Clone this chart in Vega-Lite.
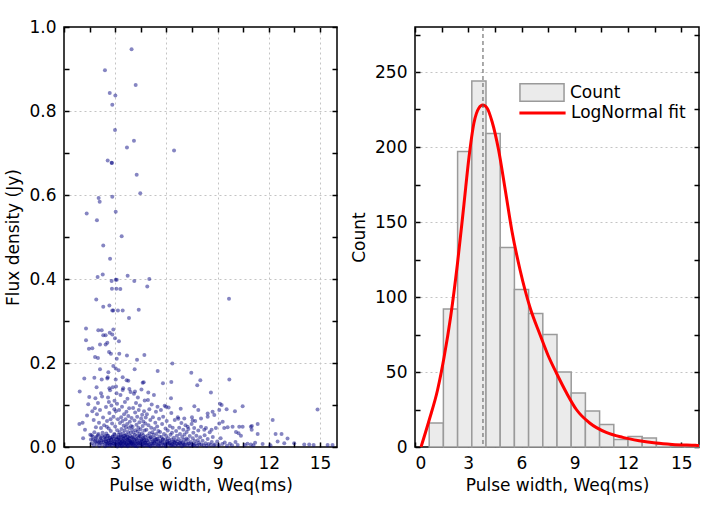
{
  "$schema": "https://vega.github.io/schema/vega-lite/v6.json",
  "background": "white",
  "padding": {"left": 4, "top": 17, "right": 8, "bottom": 5},
  "config": {
    "view": {"stroke": "#000", "strokeWidth": 1.5},
    "font": "DejaVu Sans",
    "axis": {
      "labelFont": "DejaVu Sans", "labelFontSize": 17, "labelColor": "#000",
      "titleFont": "DejaVu Sans", "titleFontSize": 17, "titleFontWeight": "normal", "titleColor": "#000",
      "domain": false, "tickColor": "#000", "tickSize": -5, "tickWidth": 1.5,
      "gridColor": "#c4c4c4", "gridDash": [2, 3], "gridWidth": 1,
      "labelPadding": 13, "titlePadding": 6
    },
    "legend": {
      "labelFont": "DejaVu Sans", "labelFontSize": 17, "labelColor": "#000",
      "symbolSize": 441, "symbolOffset": 11.5, "labelOffset": 16.5, "rowPadding": 0
    }
  },
  "datasets": {
    "pulses": [
      {"width":3.96,"flux":0.947},{"width":2.40,"flux":0.897},{"width":4.20,"flux":0.862},{"width":2.68,"flux":0.843},
      {"width":3.01,"flux":0.837},{"width":2.83,"flux":0.815},{"width":2.99,"flux":0.755},{"width":4.10,"flux":0.729},
      {"width":3.69,"flux":0.713},{"width":6.45,"flux":0.706},{"width":2.56,"flux":0.682},{"width":2.79,"flux":0.677},
      {"width":2.81,"flux":0.676},{"width":4.26,"flux":0.648},{"width":4.47,"flux":0.604},{"width":2.03,"flux":0.593},
      {"width":2.09,"flux":0.584},{"width":2.83,"flux":0.596},{"width":1.33,"flux":0.556},{"width":3.03,"flux":0.560},
      {"width":1.93,"flux":0.540},{"width":3.38,"flux":0.502},{"width":2.30,"flux":0.480},{"width":2.70,"flux":0.448},
      {"width":2.27,"flux":0.411},{"width":1.97,"flux":0.405},{"width":3.73,"flux":0.408},{"width":3.03,"flux":0.398},
      {"width":3.09,"flux":0.398},{"width":2.79,"flux":0.395},{"width":4.12,"flux":0.395},{"width":5.00,"flux":0.400},
      {"width":4.88,"flux":0.382},{"width":2.81,"flux":0.377},{"width":3.07,"flux":0.377},{"width":3.30,"flux":0.376},
      {"width":9.67,"flux":0.353},{"width":1.89,"flux":0.351},{"width":2.30,"flux":0.334},{"width":2.66,"flux":0.337},
      {"width":2.83,"flux":0.325},{"width":2.89,"flux":0.325},{"width":3.16,"flux":0.325},{"width":3.44,"flux":0.325},
      {"width":4.38,"flux":0.327},{"width":3.81,"flux":0.307},{"width":1.29,"flux":0.282},{"width":2.01,"flux":0.278},
      {"width":2.21,"flux":0.278},{"width":2.89,"flux":0.280},{"width":2.68,"flux":0.272},{"width":2.83,"flux":0.268},
      {"width":2.30,"flux":0.266},{"width":2.44,"flux":0.266},{"width":1.29,"flux":0.254},{"width":3.22,"flux":0.252},
      {"width":2.99,"flux":0.259},{"width":1.46,"flux":0.234},{"width":1.66,"flux":0.235},{"width":2.11,"flux":0.244},
      {"width":2.44,"flux":0.244},{"width":2.54,"flux":0.248},{"width":2.64,"flux":0.226},{"width":2.75,"flux":0.222},
      {"width":3.24,"flux":0.222},{"width":3.69,"flux":0.218},{"width":4.71,"flux":0.219},{"width":1.82,"flux":0.214},
      {"width":1.99,"flux":0.212},{"width":3.09,"flux":0.210},{"width":4.28,"flux":0.208},{"width":6.35,"flux":0.199},
      {"width":2.89,"flux":0.193},{"width":3.03,"flux":0.187},{"width":2.11,"flux":0.185},{"width":4.14,"flux":0.185},
      {"width":2.60,"flux":0.178},{"width":5.49,"flux":0.181},{"width":7.46,"flux":0.177},{"width":3.20,"flux":0.183},
      {"width":1.19,"flux":0.163},{"width":1.78,"flux":0.165},{"width":2.21,"flux":0.161},{"width":2.54,"flux":0.163},
      {"width":3.03,"flux":0.161},{"width":3.67,"flux":0.159},{"width":7.99,"flux":0.159},{"width":9.69,"flux":0.161},
      {"width":4.67,"flux":0.154},{"width":5.80,"flux":0.152},{"width":6.29,"flux":0.155},{"width":7.81,"flux":0.147},
      {"width":1.91,"flux":0.142},{"width":0.92,"flux":0.132},{"width":8.61,"flux":0.130},{"width":14.86,"flux":0.089},
      {"width":12.23,"flux":0.064},{"width":10.47,"flux":0.097},{"width":9.14,"flux":0.103},{"width":7.64,"flux":0.097},
      {"width":6.84,"flux":0.091},{"width":7.87,"flux":0.088},{"width":8.42,"flux":0.080},{"width":8.71,"flux":0.084},
      {"width":9.10,"flux":0.088},{"width":9.24,"flux":0.100},{"width":9.53,"flux":0.090},{"width":10.02,"flux":0.085},
      {"width":8.03,"flux":0.048},{"width":8.32,"flux":0.045},{"width":8.65,"flux":0.041},{"width":8.90,"flux":0.045},
      {"width":9.39,"flux":0.045},{"width":9.30,"flux":0.060},{"width":9.59,"flux":0.047},{"width":9.88,"flux":0.048},
      {"width":10.23,"flux":0.033},{"width":10.27,"flux":0.048},{"width":10.37,"flux":0.027},{"width":10.08,"flux":0.036},
      {"width":10.47,"flux":0.048},{"width":10.95,"flux":0.048},{"width":10.95,"flux":0.006},{"width":11.01,"flux":0.050},
      {"width":11.00,"flux":0.041},{"width":10.60,"flux":0.005},{"width":11.35,"flux":0.055},{"width":11.35,"flux":0.031},
      {"width":11.20,"flux":0.010},{"width":11.64,"flux":0.007},{"width":12.40,"flux":0.031},{"width":12.75,"flux":0.031},
      {"width":12.52,"flux":0.013},{"width":12.10,"flux":0.004},{"width":12.91,"flux":0.009},{"width":13.49,"flux":0.009},
      {"width":13.10,"flux":0.020},{"width":14.08,"flux":0.006},{"width":14.37,"flux":0.006},{"width":14.63,"flux":0.005},
      {"width":15.45,"flux":0.005},{"width":15.74,"flux":0.005},{"width":9.10,"flux":0.056},
      {"width":2.56,"flux":0.166},{"width":3.44,"flux":0.166},{"width":3.77,"flux":0.158},{"width":4.61,"flux":0.153},
      {"width":2.17,"flux":0.128},{"width":2.66,"flux":0.140},{"width":3.05,"flux":0.144},{"width":3.44,"flux":0.136},
      {"width":3.83,"flux":0.138},{"width":4.16,"flux":0.132},{"width":4.94,"flux":0.130},{"width":1.48,"flux":0.119},
      {"width":1.84,"flux":0.116},{"width":6.27,"flux":0.116},{"width":7.54,"flux":0.063},
      {"width":5.98,"flux":0.096},{"width":8.03,"flux":0.068},{"width":8.42,"flux":0.072},{"width":8.81,"flux":0.076},
      {"width":6.70,"flux":0.067},{"width":7.05,"flux":0.068},{"width":7.50,"flux":0.071},{"width":7.25,"flux":0.048},
      {"width":7.63,"flux":0.045},{"width":8.22,"flux":0.041},
      {"width":0.90,"flux":0.055},{"width":1.09,"flux":0.058},{"width":1.23,"flux":0.041},{"width":1.42,"flux":0.102},
      {"width":1.54,"flux":0.029},{"width":1.35,"flux":0.075},{"width":1.12,"flux":0.021},
      {"width":1.62,"flux":0.028},{"width":1.66,"flux":0.085},{"width":1.70,"flux":0.018},{"width":1.74,"flux":0.064},
      {"width":1.78,"flux":0.035},{"width":1.81,"flux":0.092},{"width":1.84,"flux":0.012},{"width":1.87,"flux":0.047},
      {"width":1.90,"flux":0.024},{"width":1.93,"flux":0.078},{"width":1.96,"flux":0.015},{"width":1.99,"flux":0.105},
      {"width":2.02,"flux":0.031},{"width":2.05,"flux":0.058},{"width":2.08,"flux":0.010},{"width":2.11,"flux":0.088},
      {"width":2.14,"flux":0.022},{"width":2.17,"flux":0.045},{"width":2.20,"flux":0.016},{"width":2.23,"flux":0.120},
      {"width":2.26,"flux":0.034},{"width":2.29,"flux":0.070},{"width":2.32,"flux":0.012},{"width":2.35,"flux":0.052},
      {"width":2.38,"flux":0.026},
      {"width":2.42,"flux":0.008},{"width":2.44,"flux":0.019},{"width":2.46,"flux":0.095},{"width":2.48,"flux":0.032},
      {"width":2.50,"flux":0.012},{"width":2.52,"flux":0.062},{"width":2.54,"flux":0.004},{"width":2.56,"flux":0.027},
      {"width":2.58,"flux":0.118},{"width":2.60,"flux":0.015},{"width":2.62,"flux":0.044},{"width":2.64,"flux":0.009},
      {"width":2.66,"flux":0.081},{"width":2.68,"flux":0.021},{"width":2.70,"flux":0.135},{"width":2.72,"flux":0.006},
      {"width":2.74,"flux":0.038},{"width":2.76,"flux":0.017},{"width":2.78,"flux":0.099},{"width":2.80,"flux":0.011},
      {"width":2.82,"flux":0.056},{"width":2.84,"flux":0.025},{"width":2.86,"flux":0.142},{"width":2.88,"flux":0.007},
      {"width":2.90,"flux":0.072},{"width":2.92,"flux":0.019},{"width":2.94,"flux":0.031},{"width":2.96,"flux":0.110},
      {"width":2.98,"flux":0.013},{"width":3.00,"flux":0.049},{"width":3.02,"flux":0.005},{"width":3.04,"flux":0.085},
      {"width":3.06,"flux":0.023},{"width":3.08,"flux":0.128},{"width":3.10,"flux":0.010},{"width":3.12,"flux":0.040},
      {"width":3.14,"flux":0.018},{"width":3.16,"flux":0.066},{"width":3.18,"flux":0.008},{"width":3.19,"flux":0.029},
      {"width":2.51,"flux":0.048},{"width":2.73,"flux":0.066},{"width":2.95,"flux":0.090},{"width":3.11,"flux":0.103},
      {"width":2.63,"flux":0.107},
      {"width":3.21,"flux":0.006},{"width":3.22,"flux":0.021},{"width":3.23,"flux":0.088},{"width":3.25,"flux":0.013},
      {"width":3.26,"flux":0.035},{"width":3.27,"flux":0.004},{"width":3.28,"flux":0.057},{"width":3.30,"flux":0.017},
      {"width":3.31,"flux":0.124},{"width":3.32,"flux":0.009},{"width":3.33,"flux":0.028},{"width":3.35,"flux":0.071},
      {"width":3.36,"flux":0.011},{"width":3.37,"flux":0.043},{"width":3.38,"flux":0.002},{"width":3.40,"flux":0.096},
      {"width":3.41,"flux":0.024},{"width":3.42,"flux":0.015},{"width":3.43,"flux":0.062},{"width":3.45,"flux":0.008},
      {"width":3.46,"flux":0.033},{"width":3.47,"flux":0.140},{"width":3.48,"flux":0.019},{"width":3.50,"flux":0.051},
      {"width":3.51,"flux":0.005},{"width":3.52,"flux":0.078},{"width":3.53,"flux":0.026},{"width":3.55,"flux":0.012},
      {"width":3.56,"flux":0.039},{"width":3.57,"flux":0.107},{"width":3.58,"flux":0.003},{"width":3.60,"flux":0.022},
      {"width":3.61,"flux":0.066},{"width":3.62,"flux":0.014},{"width":3.63,"flux":0.047},{"width":3.65,"flux":0.010},
      {"width":3.66,"flux":0.084},{"width":3.67,"flux":0.030},{"width":3.68,"flux":0.007},{"width":3.70,"flux":0.055},
      {"width":3.71,"flux":0.018},{"width":3.72,"flux":0.115},{"width":3.73,"flux":0.025},{"width":3.75,"flux":0.004},
      {"width":3.76,"flux":0.036},{"width":3.77,"flux":0.074},{"width":3.78,"flux":0.016},{"width":3.80,"flux":0.009},
      {"width":3.81,"flux":0.045},{"width":3.82,"flux":0.092},{"width":3.83,"flux":0.020},{"width":3.85,"flux":0.006},
      {"width":3.86,"flux":0.060},{"width":3.87,"flux":0.027},{"width":3.88,"flux":0.013},{"width":3.90,"flux":0.131},
      {"width":3.91,"flux":0.034},{"width":3.92,"flux":0.011},{"width":3.93,"flux":0.050},{"width":3.95,"flux":0.003},
      {"width":3.96,"flux":0.069},{"width":3.97,"flux":0.023},{"width":3.98,"flux":0.015},{"width":3.99,"flux":0.041},
      {"width":3.995,"flux":0.008},
      {"width":4.01,"flux":0.012},{"width":4.02,"flux":0.048},{"width":4.04,"flux":0.005},{"width":4.05,"flux":0.093},
      {"width":4.06,"flux":0.021},{"width":4.08,"flux":0.034},{"width":4.09,"flux":0.008},{"width":4.10,"flux":0.127},
      {"width":4.12,"flux":0.017},{"width":4.13,"flux":0.063},{"width":4.14,"flux":0.003},{"width":4.16,"flux":0.029},
      {"width":4.17,"flux":0.082},{"width":4.18,"flux":0.011},{"width":4.20,"flux":0.040},{"width":4.21,"flux":0.019},
      {"width":4.22,"flux":0.105},{"width":4.24,"flux":0.007},{"width":4.25,"flux":0.053},{"width":4.26,"flux":0.026},
      {"width":4.28,"flux":0.014},{"width":4.29,"flux":0.072},{"width":4.30,"flux":0.002},{"width":4.32,"flux":0.037},
      {"width":4.33,"flux":0.118},{"width":4.34,"flux":0.010},{"width":4.36,"flux":0.046},{"width":4.37,"flux":0.022},
      {"width":4.38,"flux":0.088},{"width":4.40,"flux":0.006},{"width":4.41,"flux":0.031},{"width":4.42,"flux":0.059},
      {"width":4.44,"flux":0.015},{"width":4.45,"flux":0.099},{"width":4.46,"flux":0.009},{"width":4.48,"flux":0.025},
      {"width":4.49,"flux":0.042},{"width":4.50,"flux":0.004},{"width":4.52,"flux":0.068},{"width":4.53,"flux":0.018},
      {"width":4.54,"flux":0.137},{"width":4.56,"flux":0.012},{"width":4.57,"flux":0.033},{"width":4.58,"flux":0.077},
      {"width":4.60,"flux":0.007},{"width":4.61,"flux":0.050},{"width":4.62,"flux":0.020},{"width":4.64,"flux":0.013},
      {"width":4.65,"flux":0.061},{"width":4.66,"flux":0.028},{"width":4.68,"flux":0.003},{"width":4.69,"flux":0.085},
      {"width":4.70,"flux":0.016},{"width":4.72,"flux":0.039},{"width":4.73,"flux":0.111},{"width":4.74,"flux":0.010},
      {"width":4.76,"flux":0.024},{"width":4.77,"flux":0.056},{"width":4.78,"flux":0.005},{"width":4.79,"flux":0.070},
      {"width":4.81,"flux":0.009},{"width":4.83,"flux":0.041},{"width":4.85,"flux":0.016},{"width":4.86,"flux":0.078},
      {"width":4.88,"flux":0.004},{"width":4.90,"flux":0.027},{"width":4.92,"flux":0.112},{"width":4.93,"flux":0.011},
      {"width":4.95,"flux":0.052},{"width":4.97,"flux":0.020},{"width":4.99,"flux":0.006},{"width":5.00,"flux":0.090},
      {"width":5.02,"flux":0.033},{"width":5.04,"flux":0.013},{"width":5.06,"flux":0.064},{"width":5.07,"flux":0.002},
      {"width":5.09,"flux":0.024},{"width":5.11,"flux":0.046},{"width":5.13,"flux":0.008},{"width":5.14,"flux":0.101},
      {"width":5.16,"flux":0.018},{"width":5.18,"flux":0.035},{"width":5.20,"flux":0.005},{"width":5.21,"flux":0.071},
      {"width":5.23,"flux":0.014},{"width":5.25,"flux":0.029},{"width":5.27,"flux":0.124},{"width":5.28,"flux":0.010},
      {"width":5.30,"flux":0.043},{"width":5.32,"flux":0.022},{"width":5.34,"flux":0.003},{"width":5.35,"flux":0.058},
      {"width":5.37,"flux":0.017},{"width":5.39,"flux":0.084},{"width":5.41,"flux":0.007},{"width":5.42,"flux":0.031},
      {"width":5.44,"flux":0.012},{"width":5.46,"flux":0.049},{"width":5.48,"flux":0.096},{"width":5.49,"flux":0.019},
      {"width":5.51,"flux":0.006},{"width":5.53,"flux":0.038},{"width":5.55,"flux":0.015},{"width":5.57,"flux":0.067},
      {"width":5.59,"flux":0.025},
      {"width":5.61,"flux":0.007},{"width":5.63,"flux":0.036},{"width":5.66,"flux":0.014},{"width":5.68,"flux":0.088},
      {"width":5.70,"flux":0.003},{"width":5.72,"flux":0.024},{"width":5.75,"flux":0.055},{"width":5.77,"flux":0.011},
      {"width":5.79,"flux":0.019},{"width":5.81,"flux":0.072},{"width":5.84,"flux":0.005},{"width":5.86,"flux":0.031},
      {"width":5.88,"flux":0.009},{"width":5.90,"flux":0.098},{"width":5.93,"flux":0.017},{"width":5.95,"flux":0.044},
      {"width":5.97,"flux":0.002},{"width":5.99,"flux":0.026},{"width":6.02,"flux":0.062},{"width":6.04,"flux":0.012},
      {"width":6.06,"flux":0.008},{"width":6.08,"flux":0.039},{"width":6.11,"flux":0.021},{"width":6.13,"flux":0.094},
      {"width":6.15,"flux":0.006},{"width":6.17,"flux":0.015},{"width":6.20,"flux":0.050},{"width":6.22,"flux":0.010},
      {"width":6.24,"flux":0.029},{"width":6.26,"flux":0.004},{"width":6.29,"flux":0.081},{"width":6.31,"flux":0.018},
      {"width":6.33,"flux":0.034},{"width":6.35,"flux":0.007},{"width":6.37,"flux":0.046},{"width":6.39,"flux":0.013},
      {"width":6.41,"flux":0.005},{"width":6.44,"flux":0.022},{"width":6.46,"flux":0.011},{"width":6.49,"flux":0.064},
      {"width":6.52,"flux":0.003},{"width":6.54,"flux":0.016},{"width":6.57,"flux":0.038},{"width":6.59,"flux":0.008},
      {"width":6.62,"flux":0.027},{"width":6.65,"flux":0.013},{"width":6.67,"flux":0.071},{"width":6.70,"flux":0.004},
      {"width":6.72,"flux":0.019},{"width":6.75,"flux":0.046},{"width":6.78,"flux":0.009},{"width":6.80,"flux":0.031},
      {"width":6.83,"flux":0.006},{"width":6.86,"flux":0.014},{"width":6.88,"flux":0.057},{"width":6.91,"flux":0.002},
      {"width":6.93,"flux":0.024},{"width":6.96,"flux":0.010},{"width":6.99,"flux":0.041},{"width":7.01,"flux":0.007},
      {"width":7.04,"flux":0.017},{"width":7.06,"flux":0.030},{"width":7.09,"flux":0.005},{"width":7.12,"flux":0.052},
      {"width":7.14,"flux":0.012},{"width":7.17,"flux":0.020},{"width":7.19,"flux":0.036},
      {"width":7.22,"flux":0.004},{"width":7.26,"flux":0.018},{"width":7.29,"flux":0.043},{"width":7.33,"flux":0.009},
      {"width":7.37,"flux":0.026},{"width":7.40,"flux":0.003},{"width":7.44,"flux":0.012},{"width":7.48,"flux":0.055},
      {"width":7.51,"flux":0.007},{"width":7.55,"flux":0.021},{"width":7.58,"flux":0.034},{"width":7.62,"flux":0.005},
      {"width":7.66,"flux":0.014},{"width":7.69,"flux":0.062},{"width":7.73,"flux":0.008},{"width":7.76,"flux":0.027},
      {"width":7.80,"flux":0.003},{"width":7.84,"flux":0.016},{"width":7.87,"flux":0.039},{"width":7.91,"flux":0.010},
      {"width":7.94,"flux":0.006},{"width":7.98,"flux":0.023},
      {"width":8.06,"flux":0.006},{"width":8.12,"flux":0.015},{"width":8.18,"flux":0.004},{"width":8.24,"flux":0.028},
      {"width":8.30,"flux":0.009},{"width":8.36,"flux":0.003},{"width":8.42,"flux":0.019},{"width":8.48,"flux":0.007},
      {"width":8.54,"flux":0.035},{"width":8.60,"flux":0.005},{"width":8.66,"flux":0.012},{"width":8.72,"flux":0.024},
      {"width":8.78,"flux":0.004},
      {"width":8.85,"flux":0.006},{"width":8.98,"flux":0.013},{"width":9.07,"flux":0.004},{"width":9.18,"flux":0.021},
      {"width":9.28,"flux":0.007},{"width":9.42,"flux":0.011},{"width":9.55,"flux":0.003},
      {"width":9.72,"flux":0.008},{"width":9.85,"flux":0.004},{"width":10.05,"flux":0.012},{"width":10.18,"flux":0.005},
      {"width":10.75,"flux":0.008},{"width":11.10,"flux":0.004},
      {"width":1.58,"flux":0.018},{"width":1.63,"flux":0.009},{"width":1.69,"flux":0.025},{"width":1.75,"flux":0.004},
      {"width":1.81,"flux":0.014},{"width":1.86,"flux":0.021},{"width":1.92,"flux":0.007},{"width":1.98,"flux":0.028},
      {"width":2.03,"flux":0.012},{"width":2.07,"flux":0.003},{"width":2.12,"flux":0.019},{"width":2.16,"flux":0.010},
      {"width":2.21,"flux":0.026},{"width":2.25,"flux":0.006},{"width":2.31,"flux":0.016},{"width":2.36,"flux":0.023},
      {"width":2.41,"flux":0.002},{"width":2.45,"flux":0.013},{"width":2.49,"flux":0.020},{"width":2.53,"flux":0.008},
      {"width":2.57,"flux":0.027},{"width":2.61,"flux":0.015},{"width":2.65,"flux":0.005},{"width":2.69,"flux":0.022},
      {"width":2.73,"flux":0.011},{"width":2.77,"flux":0.017},{"width":2.81,"flux":0.003},{"width":2.85,"flux":0.024},
      {"width":2.89,"flux":0.009},{"width":2.93,"flux":0.014},{"width":2.97,"flux":0.029},{"width":3.01,"flux":0.006},
      {"width":3.05,"flux":0.019},{"width":3.09,"flux":0.012},{"width":3.13,"flux":0.001},{"width":3.17,"flux":0.023},
      {"width":3.24,"flux":0.016},{"width":3.29,"flux":0.008},{"width":3.34,"flux":0.025},{"width":3.39,"flux":0.004},
      {"width":3.44,"flux":0.013},{"width":3.49,"flux":0.020},{"width":3.54,"flux":0.010},{"width":3.59,"flux":0.027},
      {"width":3.64,"flux":0.006},{"width":3.69,"flux":0.017},{"width":3.74,"flux":0.002},{"width":3.79,"flux":0.022},
      {"width":3.84,"flux":0.011},{"width":3.89,"flux":0.015},{"width":3.94,"flux":0.007},{"width":4.03,"flux":0.024},
      {"width":4.11,"flux":0.012},{"width":4.19,"flux":0.003},{"width":4.27,"flux":0.018},{"width":4.35,"flux":0.009},
      {"width":4.43,"flux":0.026},{"width":4.51,"flux":0.014},{"width":4.59,"flux":0.005},{"width":4.67,"flux":0.021},
      {"width":4.75,"flux":0.010},{"width":4.84,"flux":0.016},{"width":4.96,"flux":0.004},{"width":5.08,"flux":0.023},
      {"width":5.19,"flux":0.008},{"width":5.31,"flux":0.013},{"width":5.43,"flux":0.019},{"width":5.55,"flux":0.003},
      {"width":5.67,"flux":0.011},{"width":5.79,"flux":0.017},{"width":5.92,"flux":0.006},{"width":6.05,"flux":0.014},
      {"width":6.18,"flux":0.009},{"width":6.32,"flux":0.004},{"width":6.47,"flux":0.012},{"width":6.63,"flux":0.007},
      {"width":6.81,"flux":0.010},{"width":7.02,"flux":0.005},{"width":7.27,"flux":0.008},{"width":7.58,"flux":0.004}
    ],
    "histogram": [
      {"bin_start":0.8,"bin_end":1.6,"count":16,"series":"Count"},
      {"bin_start":1.6,"bin_end":2.4,"count":92,"series":"Count"},
      {"bin_start":2.4,"bin_end":3.2,"count":197,"series":"Count"},
      {"bin_start":3.2,"bin_end":4.0,"count":244,"series":"Count"},
      {"bin_start":4.0,"bin_end":4.8,"count":209,"series":"Count"},
      {"bin_start":4.8,"bin_end":5.6,"count":133,"series":"Count"},
      {"bin_start":5.6,"bin_end":6.4,"count":105,"series":"Count"},
      {"bin_start":6.4,"bin_end":7.2,"count":89,"series":"Count"},
      {"bin_start":7.2,"bin_end":8.0,"count":75,"series":"Count"},
      {"bin_start":8.0,"bin_end":8.8,"count":50,"series":"Count"},
      {"bin_start":8.8,"bin_end":9.6,"count":36,"series":"Count"},
      {"bin_start":9.6,"bin_end":10.4,"count":24,"series":"Count"},
      {"bin_start":10.4,"bin_end":11.2,"count":15,"series":"Count"},
      {"bin_start":11.2,"bin_end":12.0,"count":5,"series":"Count"},
      {"bin_start":12.0,"bin_end":12.8,"count":7,"series":"Count"},
      {"bin_start":12.8,"bin_end":13.6,"count":6,"series":"Count"},
      {"bin_start":13.6,"bin_end":14.4,"count":2,"series":"Count"},
      {"bin_start":14.4,"bin_end":15.2,"count":1,"series":"Count"},
      {"bin_start":15.2,"bin_end":16.0,"count":1,"series":"Count"}
    ],
    "fit": [
      {"width":0.34,"count":0,"series":"LogNormal fit"},
      {"width":0.8,"count":18,"series":"LogNormal fit"},
      {"width":1.27,"count":38,"series":"LogNormal fit"},
      {"width":1.64,"count":60,"series":"LogNormal fit"},
      {"width":2.01,"count":87,"series":"LogNormal fit"},
      {"width":2.39,"count":122,"series":"LogNormal fit"},
      {"width":2.76,"count":162,"series":"LogNormal fit"},
      {"width":3.04,"count":193,"series":"LogNormal fit"},
      {"width":3.32,"count":216,"series":"LogNormal fit"},
      {"width":3.6,"count":226,"series":"LogNormal fit"},
      {"width":3.82,"count":228,"series":"LogNormal fit"},
      {"width":4.06,"count":226,"series":"LogNormal fit"},
      {"width":4.34,"count":217,"series":"LogNormal fit"},
      {"width":4.71,"count":198,"series":"LogNormal fit"},
      {"width":5.09,"count":171,"series":"LogNormal fit"},
      {"width":5.46,"count":144,"series":"LogNormal fit"},
      {"width":5.92,"count":118,"series":"LogNormal fit"},
      {"width":6.48,"count":93,"series":"LogNormal fit"},
      {"width":7.04,"count":75,"series":"LogNormal fit"},
      {"width":7.5,"count":61,"series":"LogNormal fit"},
      {"width":7.98,"count":49,"series":"LogNormal fit"},
      {"width":8.54,"count":36,"series":"LogNormal fit"},
      {"width":9.09,"count":25,"series":"LogNormal fit"},
      {"width":9.84,"count":16,"series":"LogNormal fit"},
      {"width":10.77,"count":9.7,"series":"LogNormal fit"},
      {"width":11.7,"count":6.4,"series":"LogNormal fit"},
      {"width":12.63,"count":4.2,"series":"LogNormal fit"},
      {"width":13.57,"count":2.6,"series":"LogNormal fit"},
      {"width":14.49,"count":1.7,"series":"LogNormal fit"},
      {"width":15.8,"count":1.1,"series":"LogNormal fit"},
      {"width":16.0,"count":1.0,"series":"LogNormal fit"}
    ],
    "peak": [{"peak_width":3.83}]
  },
  "spacing": 10,
  "hconcat": [
    {
      "width": 273,
      "height": 420,
      "data": {"name": "pulses"},
      "layer": [
        {
          "mark": {"type": "circle", "size": 16, "color": "#000080", "opacity": 0.48},
          "encoding": {
            "x": {
              "field": "width", "type": "quantitative",
              "scale": {"domain": [0, 16], "nice": false},
              "axis": {
                "orient": "bottom", "title": "Pulse width, Weq(ms)",
                "values": [0, 1.5, 3, 4.5, 6, 7.5, 9, 10.5, 12, 13.5, 15],
                "labelExpr": "datum.value % 3 == 0 ? datum.label : ''",
                "grid": true,
                "gridOpacity": {"condition": {"test": "datum.value % 3 != 0 || datum.value == 0", "value": 0}, "value": 1}
              }
            },
            "y": {
              "field": "flux", "type": "quantitative",
              "scale": {"domain": [0, 1], "nice": false},
              "axis": {
                "orient": "left", "title": "Flux density (Jy)", "format": ".1f",
                "values": [0, 0.1, 0.2, 0.3, 0.4, 0.5, 0.6, 0.7, 0.8, 0.9, 1.0],
                "labelExpr": "round(datum.value * 10) % 2 == 0 ? datum.label : ''",
                "grid": true,
                "gridOpacity": {"condition": {"test": "round(datum.value * 10) % 2 != 0 || datum.value == 0 || datum.value == 1", "value": 0}, "value": 1}
              }
            }
          }
        },
        {
          "mark": {"type": "circle", "opacity": 0},
          "encoding": {
            "x": {
              "field": "width", "type": "quantitative",
              "axis": {"orient": "top", "title": null, "labels": false, "grid": false,
                       "values": [0, 1.5, 3, 4.5, 6, 7.5, 9, 10.5, 12, 13.5, 15]}
            },
            "y": {
              "field": "flux", "type": "quantitative",
              "axis": {"orient": "right", "title": null, "labels": false, "grid": false,
                       "values": [0, 0.1, 0.2, 0.3, 0.4, 0.5, 0.6, 0.7, 0.8, 0.9, 1.0]}
            }
          }
        }
      ],
      "resolve": {"axis": {"x": "independent", "y": "independent"}}
    },
    {
      "width": 284,
      "height": 420,
      "layer": [
        {
          "data": {"name": "histogram"},
          "mark": {"type": "rect", "stroke": "#9a9a9a", "strokeWidth": 1.5},
          "encoding": {
            "x": {
              "field": "bin_start", "type": "quantitative",
              "scale": {"domain": [0, 16], "nice": false},
              "axis": {
                "orient": "bottom", "title": "Pulse width, Weq(ms)",
                "values": [0, 1.5, 3, 4.5, 6, 7.5, 9, 10.5, 12, 13.5, 15],
                "labelExpr": "datum.value % 3 == 0 ? datum.label : ''",
                "grid": false
              }
            },
            "x2": {"field": "bin_end"},
            "y": {
              "field": "count", "type": "quantitative",
              "scale": {"domain": [0, 280], "nice": false},
              "axis": {
                "orient": "left", "title": "Count",
                "values": [0, 25, 50, 75, 100, 125, 150, 175, 200, 225, 250, 275],
                "labelExpr": "datum.value % 50 == 0 ? datum.label : ''",
                "grid": true,
                "gridOpacity": {"condition": {"test": "datum.value % 50 != 0 || datum.value == 0", "value": 0}, "value": 1}
              }
            },
            "y2": {"datum": 0},
            "fill": {
              "field": "series", "type": "nominal",
              "scale": {"domain": ["Count"], "range": ["#ebebeb"]},
              "legend": {
                "title": null, "orient": "none", "legendX": 455, "legendY": 54,
                "symbolType": "M-2.1,-0.83H2.1V0.83H-2.1Z",
                "symbolStrokeColor": "#9a9a9a", "symbolStrokeWidth": 1.5
              }
            }
          }
        },
        {
          "data": {"name": "fit"},
          "mark": {"type": "line", "strokeWidth": 3, "interpolate": "monotone", "clip": true},
          "encoding": {
            "x": {"field": "width", "type": "quantitative", "axis": null},
            "y": {"field": "count", "type": "quantitative", "axis": null},
            "stroke": {
              "field": "series", "type": "nominal",
              "scale": {"domain": ["LogNormal fit"], "range": ["#ff0000"]},
              "legend": {
                "title": null, "orient": "none", "legendX": 455, "legendY": 74,
                "symbolType": "M-2.2,0H2.2", "symbolStrokeWidth": 3
              }
            }
          }
        },
        {
          "data": {"name": "peak"},
          "mark": {"type": "rule", "color": "#555555", "strokeDash": [4, 3], "strokeWidth": 1},
          "encoding": {
            "x": {"field": "peak_width", "type": "quantitative", "axis": null}
          }
        },
        {
          "data": {"name": "histogram"},
          "mark": {"type": "circle", "opacity": 0},
          "encoding": {
            "x": {
              "field": "bin_start", "type": "quantitative",
              "axis": {"orient": "top", "title": null, "labels": false, "grid": false,
                       "values": [0, 1.5, 3, 4.5, 6, 7.5, 9, 10.5, 12, 13.5, 15]}
            },
            "y": {
              "field": "count", "type": "quantitative",
              "axis": {"orient": "right", "title": null, "labels": false, "grid": false,
                       "values": [0, 25, 50, 75, 100, 125, 150, 175, 200, 225, 250, 275]}
            }
          }
        }
      ],
      "resolve": {"axis": {"x": "independent", "y": "independent"}}
    }
  ]
}
